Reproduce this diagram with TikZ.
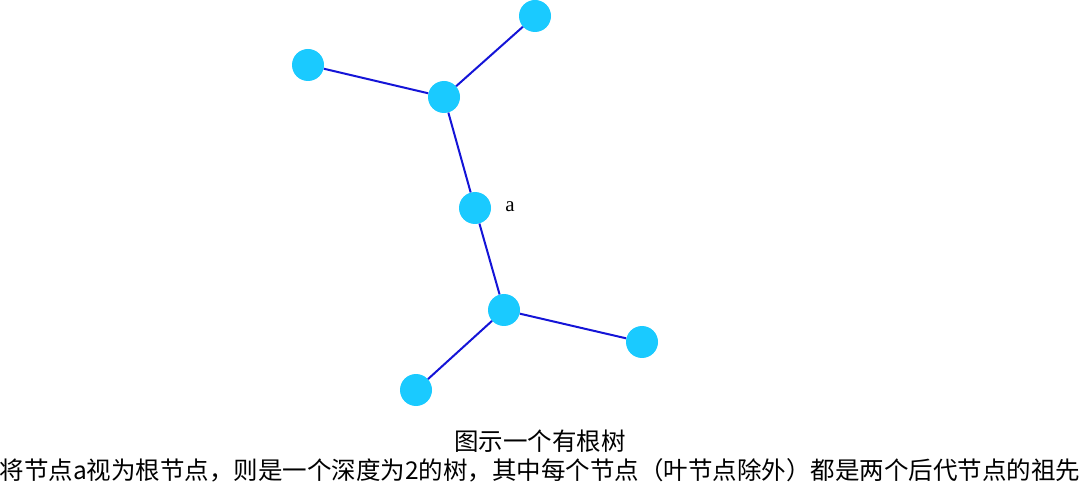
\documentclass[tikz,border=0pt]{standalone}
\usepackage{fontspec}
\newfontfamily\cjk{Noto Sans CJK SC}
\newfontfamily\latinserif{Liberation Serif}
\definecolor{nodecyan}{RGB}{26,202,255}
\definecolor{edgeblue}{RGB}{20,20,215}
\begin{document}
\begin{tikzpicture}[x=1pt,y=-1pt,
  vert/.style={circle,fill=nodecyan,draw=none,minimum size=32pt,inner sep=0pt},
  edge/.style={draw=edgeblue,line width=2pt},
  caption/.style={font=\cjk\fontsize{24.5}{28}\selectfont,inner sep=0pt,anchor=center}]
\useasboundingbox (0,0) rectangle (1080,489);
\node[vert] (tr) at (535,16) {};
\node[vert] (l) at (308,65) {};
\node[vert] (u) at (444,97) {};
\node[vert] (a) at (475,208) {};
\node[vert] (d) at (504,310) {};
\node[vert] (r) at (642,342) {};
\node[vert] (bl) at (416,390) {};
\node[font=\latinserif\fontsize{21}{24}\selectfont,inner sep=0pt] (alabel) at (510,207) {a};
\draw[edge] (a) -- (u);
\draw[edge] (a) -- (d);
\draw[edge] (u) -- (l);
\draw[edge] (u) -- (tr);
\draw[edge] (d) -- (r);
\draw[edge] (d) -- (bl);
\node[caption] (t1) at (540,441) {图示一个有根树};
\node[caption] (t2) at (540,470) {将节点a视为根节点，则是一个深度为2的树，其中每个节点（叶节点除外）都是两个后代节点的祖先};
\end{tikzpicture}
\end{document}
